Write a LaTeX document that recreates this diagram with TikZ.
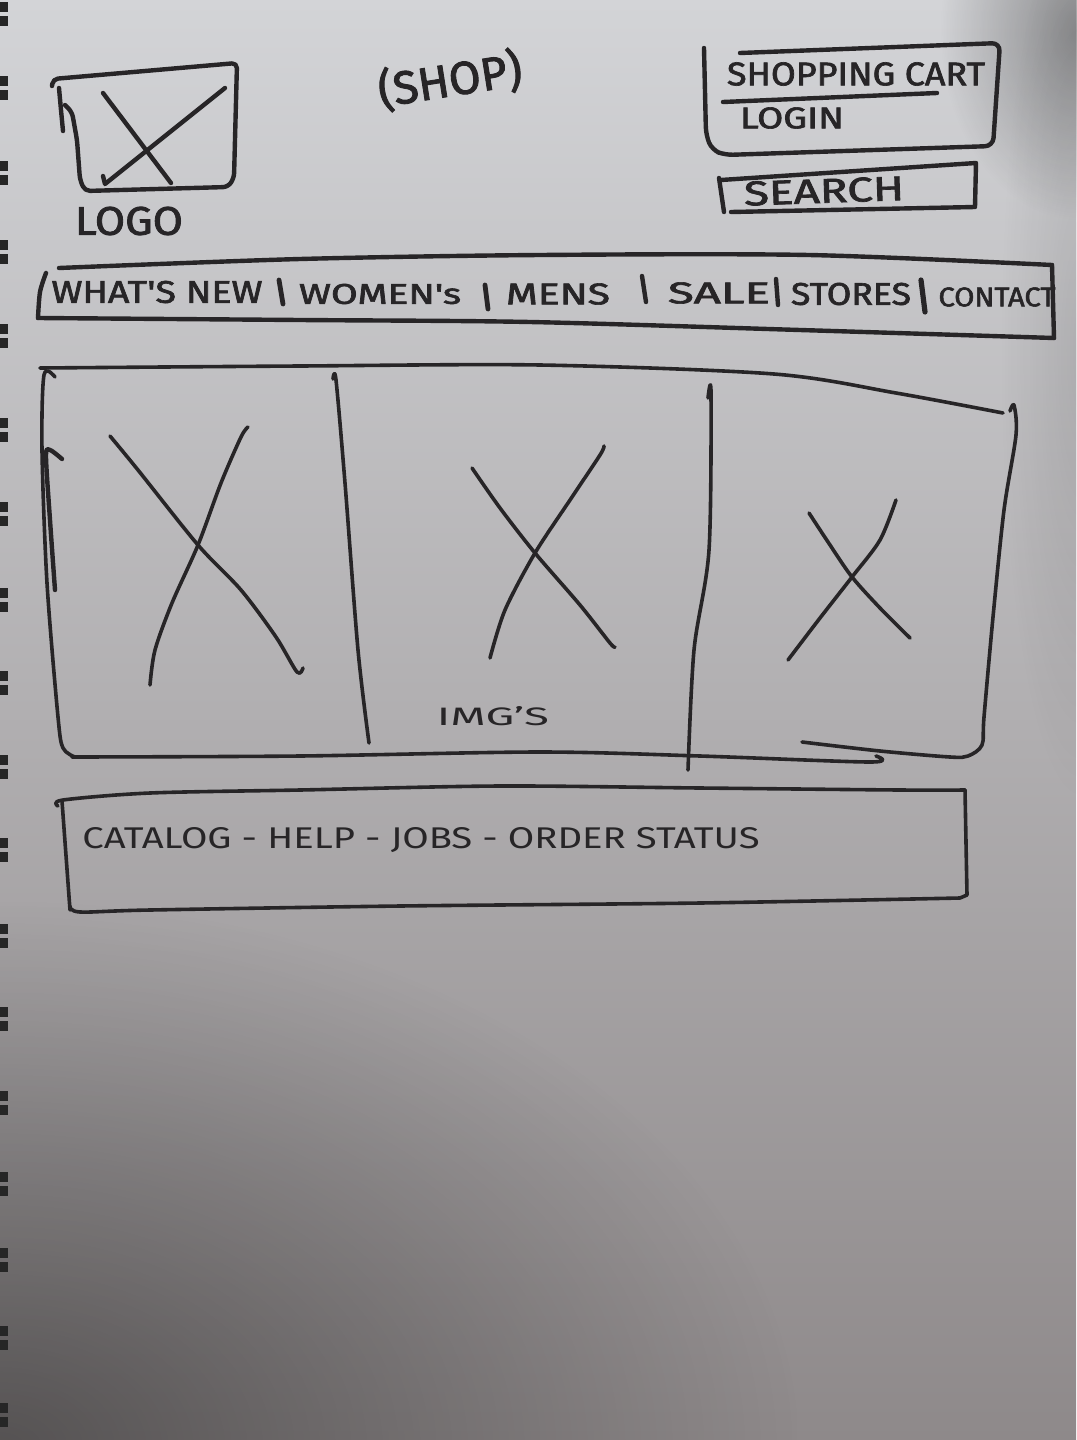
\documentclass[tikz,border=0pt]{standalone}
\usepackage{fontspec}
\setmainfont{Fira Sans}
\newfontfamily\heavyink{Fira Sans}[FakeBold=2]
\usetikzlibrary{fadings}
\definecolor{ink}{HTML}{272527}
\definecolor{papertop}{HTML}{D3D4D7}
\definecolor{papermid}{HTML}{DCE3E7}
\definecolor{paperlow}{HTML}{8E898A}
\tikzfading[name=softspot, inner color=transparent!0, outer color=transparent!100]
% text squeezed into a given width and cap height
\newcommand\skfit[3]{\resizebox{#1}{#2}{#3}}

\begin{document}
\begin{tikzpicture}[x=1pt,y=-1pt,
  pen/.style={draw=ink, line width=4.4pt, line cap=round, line join=round},
  thinpen/.style={pen, line width=3.6pt},
  hand/.style={inner sep=0pt, text=ink, font=\heavyink},
  lighthand/.style={inner sep=0pt, text=ink, font=\normalfont},
]
\useasboundingbox (0,0) rectangle (1076,1440);

% sheet of paper with uneven lighting
\shade[top color=papertop, middle color=papermid, bottom color=paperlow] (0,0) rectangle (1076,1440);
\fill[black, opacity=0.40, path fading=softspot] (-800,900) rectangle (800,2000);
\fill[black, opacity=0.35, path fading=softspot] (940,-160) rectangle (1220,220);
\fill[black, opacity=0.10, path fading=softspot] (1000,-100) rectangle (1160,800);

% spiral binding holes
\foreach \y in {14,88,173,252,336,430,514,600,683,767,850,936,1019,1103,1184,1260,1338,1415}{
  \fill[black!85] (0,\y-12) rectangle (8,\y-2);
  \fill[black!85] (0,\y+2) rectangle (8,\y+12);
}

% ---- logo placeholder ----
\draw[pen, rounded corners=5pt] (52,86) -- (53,79) -- (237,63) -- (234,178) -- (228,187) -- (85,191) -- (80,180) -- (77,140) -- (72,112) -- (65,105);
\draw[pen] (59,88) -- (61,110) -- (63,131);
\draw[pen] (103,93) -- (171,183);
\draw[pen] (103,176) -- (105,184) -- (225,88);
\node[hand] (logo) at (129,221) {\skfit{108pt}{28pt}{LOGO}};

% ---- shop name ----
\node[hand, rotate=9] (shop) at (450,80) {\skfit{145pt}{!}{(SHOP)}};

% ---- cart / login box ----
\draw[pen, rounded corners=8pt] (704,48) -- (706,135) -- (712,150) -- (725,155) -- (993,146) -- (1000,43) -- (740,53);
\draw[pen] (723,102) -- (937,93);
\node[hand] (cart) at (856,74) {\skfit{258pt}{23pt}{SHOPPING CART}};
\node[hand] (login) at (792,118) {\skfit{104pt}{21pt}{LOGIN}};

% ---- search field ----
\draw[pen] (719,178) -- (724,212);
\draw[pen] (721,180) -- (976,163) -- (975,207) -- (731,212);
\node[hand, rotate=2] (search) at (824,191) {\skfit{160pt}{24pt}{SEARCH}};

% ---- navigation bar ----
\draw[pen] plot[smooth] coordinates {(59,268) (300,259) (540,255) (809,255) (1052,265)};
\draw[pen] (1052,265) -- (1054,338);
\draw[pen] plot[smooth] coordinates {(1054,338) (800,330) (530,322) (300,320) (38,318)};
\draw[pen] plot[smooth] coordinates {(38,318) (40,292) (46,273)};
\node[hand] (nav1) at (157,292) {\skfit{211pt}{22pt}{WHAT'S NEW}};
\node[hand] (nav2) at (380,294) {\skfit{162pt}{20pt}{WOMEN's}};
\node[hand] (nav3) at (558,294) {\skfit{104pt}{21pt}{MENS}};
\node[hand] (nav4) at (719,293) {\skfit{102pt}{21pt}{SALE}};
\node[hand] (nav5) at (851,294) {\skfit{120pt}{22pt}{STORES}};
\node[hand] (nav6) at (997,297) {\skfit{117pt}{19pt}{CONTACT}};
\draw[pen, line width=4.8pt] (279,280) -- (283,304);
\draw[pen, line width=4.8pt] (485,285) -- (488,309);
\draw[pen, line width=4.4pt] (642,276) -- (646,302);
\draw[pen, line width=4.4pt] (776,279) -- (778,305);
\draw[pen, line width=5.2pt] (921,280) -- (925,312);

% ---- image strip ----
\draw[thinpen] plot[smooth] coordinates {(40,368) (300,366) (540,365) (774,374) (896,393) (1003,413)};
\draw[thinpen] plot[smooth] coordinates {(1010,411) (1014,405) (1016,435) (1004,510) (993,617) (984,717) (982,745) (968,756) (950,757) (880,751) (802,742)};
\draw[thinpen] plot[smooth] coordinates {(72,757) (300,756) (540,752) (700,756) (870,762) (876,756)};
\draw[thinpen] plot[smooth] coordinates {(55,377) (44,375) (42,450) (47,583) (58,717) (63,748) (75,757)};
\draw[pen] plot[smooth] coordinates {(62,459) (50,450) (46,456) (50,520) (55,590)};
% column dividers
\draw[thinpen] plot[smooth] coordinates {(333,379) (336,380) (345,483) (358,650) (369,743)};
\draw[thinpen] plot[smooth] coordinates {(708,398) (711,393) (709,550) (694,650) (688,770)};
% image placeholders
\draw[thinpen] plot[smooth] coordinates {(110,436) (138,470) (198,545) (241,590) (276,637) (297,672) (303,668)};
\draw[thinpen] plot[smooth] coordinates {(248,427) (241,437) (221,483) (198,545) (172,603) (155,650) (150,685)};
\draw[thinpen] plot[smooth] coordinates {(472,468) (500,508) (535,553) (580,605) (610,643) (615,647)};
\draw[thinpen] plot[smooth] coordinates {(604,446) (600,455) (570,500) (535,553) (505,610) (490,658)};
\draw[thinpen] plot[smooth] coordinates {(809,513) (830,545) (852,577) (880,608) (910,638)};
\draw[thinpen] plot[smooth] coordinates {(896,500) (880,540) (852,577) (820,618) (788,660)};
\node[lighthand] (imgs) at (493,716) {\skfit{112pt}{19pt}{IMG'S}};

% ---- footer ----
\draw[thinpen] plot[smooth] coordinates {(58,806) (63,800) (150,793) (300,790) (500,786) (700,788) (900,790) (965,790)};
\draw[thinpen] (965,790) -- (967,895) -- (960,898);
\draw[thinpen] plot[smooth] coordinates {(960,898) (700,903) (400,906) (150,910) (80,912) (70,906)};
\draw[thinpen] (62,801) -- (70,910);
\node[lighthand] (footer) at (421,840) {\skfit{677pt}{21pt}{CATALOG - HELP - JOBS - ORDER STATUS}};
\end{tikzpicture}
\end{document}
